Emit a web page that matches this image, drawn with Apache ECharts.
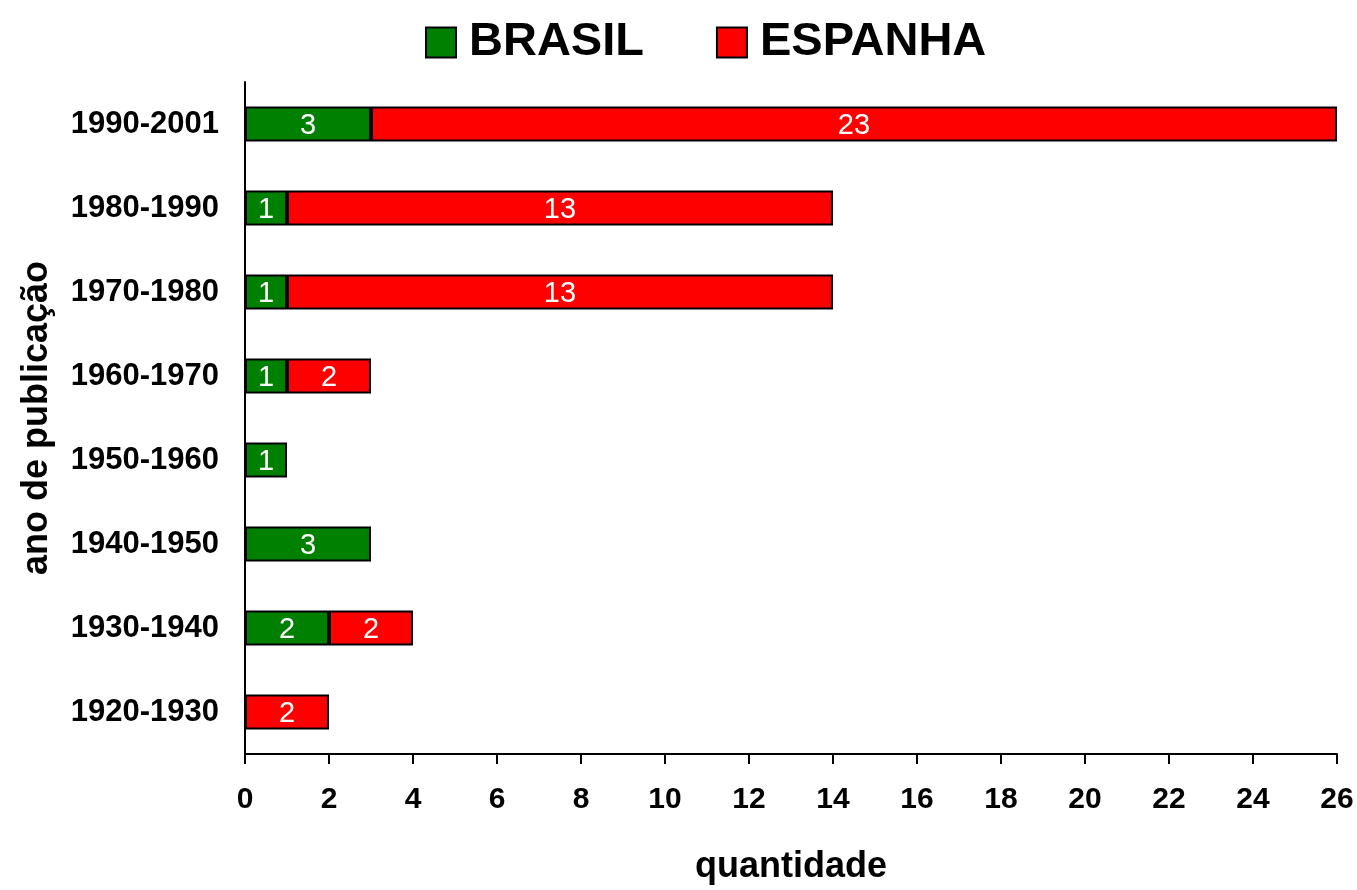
<!DOCTYPE html>
<html>
<head>
<meta charset="utf-8">
<script src="https://cdn.jsdelivr.net/npm/echarts@6/dist/echarts.min.js"></script>
<style>
  html, body { margin: 0; padding: 0; background: #fff; }
  #chart { width: 1357px; height: 890px; }
</style>
</head>
<body>
<div id="chart"></div>
<script>
// Publication periods, bottom to top
const periods = ['1920-1930', '1930-1940', '1940-1950', '1950-1960', '1960-1970', '1970-1980', '1980-1990', '1990-2001'];
// Counts per period (null = no publications)
const brasil  = [null, 2, 3, 1, 1, 1, 1, 3];
const espanha = [2, 2, null, null, 2, 13, 13, 23];
const xTicks = { min: 0, max: 26, step: 2 };

const FONT = '"Liberation Sans", Arial, sans-serif';

const chart = echarts.init(document.getElementById('chart'), null, { renderer: 'canvas' });

const barLabel = {
  show: true,
  position: 'inside',
  color: '#fff',
  fontFamily: FONT,
  fontSize: 29,
  fontWeight: 'normal',
  offset: [0, 2]
};

chart.setOption({
  animation: false,
  backgroundColor: '#fff',
  legend: {
    top: 14,
    left: 420,
    itemWidth: 30,
    itemHeight: 30,
    itemGap: 72,
    icon: 'rect',
    textStyle: {
      fontFamily: FONT,
      fontSize: 47,
      fontWeight: 'bold',
      color: '#000',
      padding: [0, 0, 0, 8]
    },
    data: ['BRASIL', 'ESPANHA']
  },
  grid: {
    left: 245,
    right: 20,
    top: 82,
    bottom: 128,
    containLabel: false
  },
  xAxis: {
    type: 'value',
    min: xTicks.min,
    max: xTicks.max,
    interval: xTicks.step,
    name: 'quantidade',
    nameLocation: 'middle',
    nameGap: 95,
    nameTextStyle: { fontFamily: FONT, fontSize: 36, fontWeight: 'bold', color: '#000' },
    axisLine: { show: true, lineStyle: { color: '#000', width: 2 } },
    axisTick: { show: true, length: 10, lineStyle: { color: '#000', width: 2 } },
    axisLabel: { margin: 31, fontFamily: FONT, fontSize: 30, fontWeight: 'bold', color: '#000' },
    splitLine: { show: false }
  },
  yAxis: {
    type: 'category',
    data: periods,
    name: 'ano de publicação',
    nameLocation: 'middle',
    nameGap: 190,
    nameRotate: 90,
    nameTextStyle: { fontFamily: FONT, fontSize: 36, fontWeight: 'bold', color: '#000' },
    axisLine: { show: true, lineStyle: { color: '#000', width: 2 } },
    axisTick: { show: false },
    axisLabel: { margin: 26, fontFamily: FONT, fontSize: 31, fontWeight: 'bold', color: '#000' },
    splitLine: { show: false }
  },
  series: [
    {
      name: 'BRASIL',
      type: 'bar',
      stack: 'total',
      barWidth: 35,
      data: brasil,
      itemStyle: { color: '#008000', borderColor: '#000', borderWidth: 2 },
      label: barLabel
    },
    {
      name: 'ESPANHA',
      type: 'bar',
      stack: 'total',
      barWidth: 35,
      data: espanha,
      itemStyle: { color: '#ff0000', borderColor: '#000', borderWidth: 2 },
      label: barLabel
    }
  ]
});
</script>
</body>
</html>
